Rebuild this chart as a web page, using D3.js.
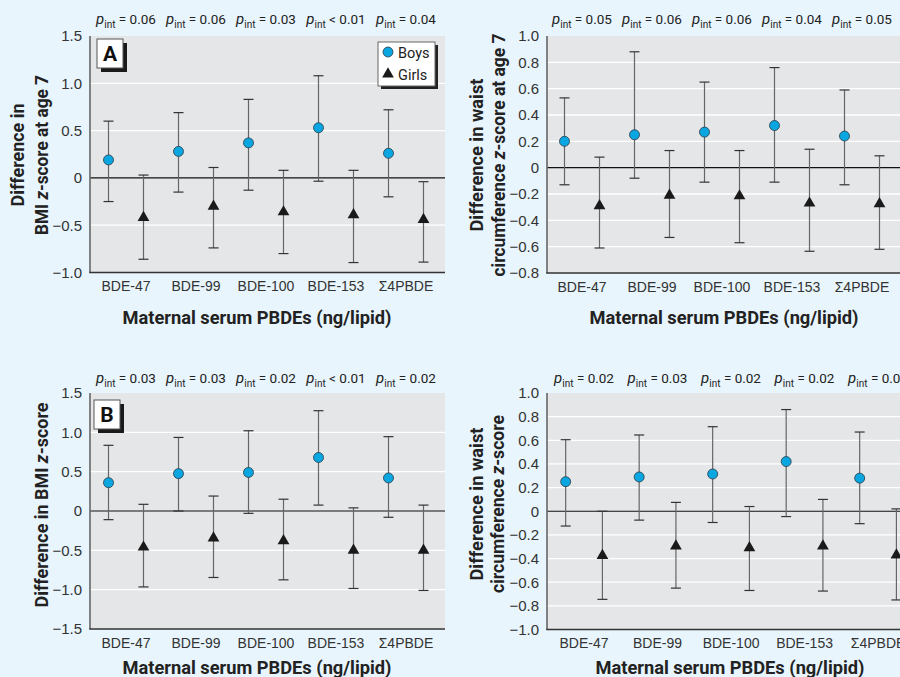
<!DOCTYPE html>
<html>
<head>
<meta charset="utf-8">
<script src="https://cdn.jsdelivr.net/npm/d3@7"></script>
<style>
  body { margin: 0; background: #e8f5fd; }
  svg { display: block; font-family: Roboto, "Liberation Sans", sans-serif; }
</style>
</head>
<body>
<svg id="chart" width="900" height="677"></svg>
<script>
var categories = ["BDE-47", "BDE-99", "BDE-100", "BDE-153", "\u03A34PBDE"];
var sexes = ["Boys", "Girls"];

// each entry: [estimate, lower CI, upper CI]
var bmi7Boys = [[0.19, -0.25, 0.60], [0.28, -0.15, 0.69], [0.37, -0.13, 0.83], [0.53, -0.035, 1.08], [0.26, -0.20, 0.72]];
var bmi7Girls = [[-0.42, -0.86, 0.03], [-0.30, -0.74, 0.11], [-0.36, -0.80, 0.08], [-0.39, -0.895, 0.08], [-0.44, -0.89, -0.04]];
var bmi7P = ["= 0.06", "= 0.06", "= 0.03", "< 0.01", "= 0.04"];

var waist7Boys = [[0.20, -0.13, 0.53], [0.25, -0.08, 0.88], [0.27, -0.11, 0.65], [0.32, -0.11, 0.76], [0.24, -0.13, 0.59]];
var waist7Girls = [[-0.29, -0.61, 0.08], [-0.21, -0.53, 0.13], [-0.215, -0.57, 0.13], [-0.27, -0.635, 0.14], [-0.275, -0.62, 0.09]];
var waist7P = ["= 0.05", "= 0.06", "= 0.06", "= 0.04", "= 0.05"];

var bmiBoys = [[0.36, -0.11, 0.835], [0.475, 0.0, 0.935], [0.49, -0.03, 1.02], [0.68, 0.075, 1.275], [0.42, -0.08, 0.945]];
var bmiGirls = [[-0.46, -0.965, 0.085], [-0.345, -0.845, 0.19], [-0.38, -0.875, 0.15], [-0.50, -0.985, 0.04], [-0.50, -1.01, 0.075]];
var bmiP = ["= 0.03", "= 0.03", "= 0.02", "< 0.01", "= 0.02"];

var waistBoys = [[0.25, -0.125, 0.605], [0.29, -0.075, 0.645], [0.315, -0.095, 0.715], [0.42, -0.045, 0.86], [0.28, -0.105, 0.67]];
var waistGirls = [[-0.375, -0.745, 0.0], [-0.295, -0.65, 0.075], [-0.31, -0.67, 0.04], [-0.295, -0.675, 0.10], [-0.37, -0.75, 0.02]];
var waistP = ["= 0.02", "= 0.03", "= 0.02", "= 0.02", "= 0.02"];

var bmi7Ticks = [-1.0, -0.5, 0, 0.5, 1.0, 1.5];
var waist7Ticks = [-0.8, -0.6, -0.4, -0.2, 0, 0.2, 0.4, 0.6, 0.8, 1.0];
var bmiTicks = [-1.5, -1.0, -0.5, 0, 0.5, 1.0, 1.5];
var waistTicks = [-1.0, -0.8, -0.6, -0.4, -0.2, 0, 0.2, 0.4, 0.6, 0.8, 1.0];

var svg = d3.select('#chart');
svg.append('rect').attr('width', 900).attr('height', 677).attr('fill', '#e8f5fd');

var fmt = function (d) { return d === 0 ? '0' : d3.format('.1f')(d); };

// writes a string where "z" before "-score" is italic
function richTitle(sel, str) {
  var parts = str.split('z-score');
  sel.append('tspan').text(parts[0]);
  if (parts.length > 1) {
    sel.append('tspan').attr('font-style', 'italic').text('z');
    sel.append('tspan').text('-score' + parts[1]);
  }
}

function drawPanel(p) {
  var g = svg.append('g');
  var y = d3.scaleLinear().domain(p.domain).range([p.bottom, p.top]);
  var x = d3.scaleBand().domain(categories).range([p.start, p.start + p.band * 5]);
  var xs = d3.scalePoint().domain(sexes).range([0, x.bandwidth()]).padding(0.5);

  g.append('rect')
    .attr('x', p.left).attr('y', p.top)
    .attr('width', p.width).attr('height', p.bottom - p.top)
    .attr('fill', '#e5e6e8');

  // white grid lines
  g.selectAll('.grid')
    .data(p.ticks.filter(function (t) { return t !== 0 && t !== p.domain[0] && t !== p.domain[1]; }))
    .enter().append('line')
    .attr('x1', p.left).attr('x2', p.left + p.width)
    .attr('y1', function (d) { return y(d); }).attr('y2', function (d) { return y(d); })
    .attr('stroke', '#fff').attr('stroke-width', 1.3);

  // zero line
  g.append('line')
    .attr('x1', p.left).attr('x2', p.left + p.width)
    .attr('y1', y(0)).attr('y2', y(0))
    .attr('stroke', '#111').attr('stroke-width', 1.2);

  // y axis (labels only)
  var ya = g.append('g')
    .attr('transform', 'translate(' + p.left + ',0)')
    .call(d3.axisLeft(y).tickValues(p.ticks).tickSize(0).tickPadding(8).tickFormat(fmt));
  ya.select('.domain').remove();
  ya.selectAll('text').attr('font-size', 15).attr('fill', '#333').attr('font-family', null);

  // x axis (labels only)
  var xa = g.append('g')
    .attr('transform', 'translate(0,' + p.bottom + ')')
    .call(d3.axisBottom(x).tickSize(0).tickPadding(9));
  xa.select('.domain').remove();
  xa.selectAll('text').attr('font-size', 14).attr('fill', '#333').attr('font-family', null);

  // frame lines
  g.append('line')
    .attr('x1', p.left).attr('x2', p.left)
    .attr('y1', p.top).attr('y2', p.bottom)
    .attr('stroke', '#666').attr('stroke-width', 1.6);
  g.append('line')
    .attr('x1', p.left - 0.8).attr('x2', p.left + p.width)
    .attr('y1', p.bottom).attr('y2', p.bottom)
    .attr('stroke', '#333').attr('stroke-width', 1.6);

  var rows = [];
  categories.forEach(function (c, i) {
    rows.push({ cat: c, sex: 'Boys', v: p.boys[i] });
    rows.push({ cat: c, sex: 'Girls', v: p.girls[i] });
  });
  var cx = function (d) { return x(d.cat) + xs(d.sex); };

  var bars = g.selectAll('.err').data(rows).enter().append('g');
  bars.append('line')
    .attr('x1', cx).attr('x2', cx)
    .attr('y1', function (d) { return y(d.v[1]); })
    .attr('y2', function (d) { return y(d.v[2]); })
    .attr('stroke', '#666').attr('stroke-width', 1.2);
  [1, 2].forEach(function (k) {
    bars.append('line')
      .attr('x1', function (d) { return cx(d) - 5; })
      .attr('x2', function (d) { return cx(d) + 5; })
      .attr('y1', function (d) { return y(d.v[k]); })
      .attr('y2', function (d) { return y(d.v[k]); })
      .attr('stroke', '#333').attr('stroke-width', 1.2);
  });

  g.selectAll('.boy').data(rows.filter(function (d) { return d.sex === 'Boys'; }))
    .enter().append('circle')
    .attr('cx', cx).attr('cy', function (d) { return y(d.v[0]); })
    .attr('r', 5).attr('fill', '#0aa6e2').attr('stroke', '#2a3a44').attr('stroke-width', 0.8);

  var tri = d3.symbol().type(d3.symbolTriangle).size(60);
  g.selectAll('.girl').data(rows.filter(function (d) { return d.sex === 'Girls'; }))
    .enter().append('path')
    .attr('d', tri)
    .attr('transform', function (d) { return 'translate(' + cx(d) + ',' + y(d.v[0]) + ')'; })
    .attr('fill', '#1a1a1a');

  // p-interaction labels
  var pl = g.selectAll('.pint').data(p.pvals).enter().append('text')
    .attr('x', function (d, i) { return x(categories[i]) + x.bandwidth() / 2; })
    .attr('y', p.pY)
    .attr('text-anchor', 'middle')
    .attr('font-size', 13.5).attr('fill', '#222');
  pl.append('tspan').attr('font-style', 'italic').attr('font-size', 15).text('p');
  pl.append('tspan').attr('font-size', 10).attr('dy', 4).text('int');
  pl.append('tspan').attr('dy', -4).text(function (d) { return ' ' + d; });

  // x title
  g.append('text')
    .attr('x', p.xTitleX).attr('y', p.xTitleY)
    .attr('text-anchor', 'middle')
    .attr('font-size', 18).attr('font-weight', 'bold').attr('fill', '#222')
    .attr('textLength', 269).attr('lengthAdjust', 'spacingAndGlyphs')
    .text('Maternal serum PBDEs (ng/lipid)');

  // y title
  p.yTitle.forEach(function (line, i) {
    var t = g.append('text')
      .attr('transform', 'translate(' + p.yTitleX[i] + ',' + p.yTitleY + ') rotate(-90)')
      .attr('text-anchor', 'middle')
      .attr('font-size', 18).attr('font-weight', 'bold').attr('fill', '#222')
      .attr('textLength', p.yTitleLen[i]).attr('lengthAdjust', 'spacingAndGlyphs');
    richTitle(t, line);
  });

  if (p.letter) {
    var L = p.letter;
    g.append('rect').attr('x', L.x + 4).attr('y', L.y + 4).attr('width', 26).attr('height', 29).attr('fill', '#1a1a1a');
    g.append('rect').attr('x', L.x).attr('y', L.y).attr('width', 26).attr('height', 29)
      .attr('fill', '#fff').attr('stroke', '#555').attr('stroke-width', 1);
    g.append('text').attr('x', L.x + 13).attr('y', L.y + 22).attr('text-anchor', 'middle')
      .attr('font-size', 21).attr('font-weight', 'bold').attr('fill', '#111').text(L.text);
  }
}

var panels = [
  { left: 90, width: 355, start: 91, band: 70, top: 36, bottom: 272.5, domain: [-1, 1.5], ticks: bmi7Ticks,
    boys: bmi7Boys, girls: bmi7Girls, pvals: bmi7P, pY: 24, xTitleX: 257, xTitleY: 324,
    yTitle: ["Difference in", "BMI z-score at age 7"], yTitleX: [24, 48], yTitleLen: [103, 160], yTitleY: 155,
    letter: { x: 97, y: 39, text: 'A' } },
  { left: 547, width: 360, start: 547, band: 70, top: 36, bottom: 273, domain: [-0.8, 1.0], ticks: waist7Ticks,
    boys: waist7Boys, girls: waist7Girls, pvals: waist7P, pY: 24, xTitleX: 724, xTitleY: 324,
    yTitle: ["Difference in waist", "circumference z-score at age 7"], yTitleX: [483, 505], yTitleLen: [153, 243], yTitleY: 155 },
  { left: 90, width: 355, start: 91, band: 70, top: 393, bottom: 629, domain: [-1.5, 1.5], ticks: bmiTicks,
    boys: bmiBoys, girls: bmiGirls, pvals: bmiP, pY: 383, xTitleX: 257, xTitleY: 674,
    yTitle: ["Difference in BMI z-score"], yTitleX: [48], yTitleLen: [205], yTitleY: 505,
    letter: { x: 94, y: 400, text: 'B' } },
  { left: 547, width: 370, start: 547.3, band: 73.5, top: 393, bottom: 629.5, domain: [-1, 1], ticks: waistTicks,
    boys: waistBoys, girls: waistGirls, pvals: waistP, pY: 383, xTitleX: 730, xTitleY: 674,
    yTitle: ["Difference in waist", "circumference z-score"], yTitleX: [483, 504], yTitleLen: [153, 178], yTitleY: 504 }
];

panels.forEach(drawPanel);

// legend (panel A)
var lg = svg.append('g').attr('transform', 'translate(378,42)');
lg.append('rect').attr('x', 3).attr('y', 3).attr('width', 57).attr('height', 44).attr('fill', '#222');
lg.append('rect').attr('width', 57).attr('height', 44).attr('fill', '#fff').attr('stroke', '#666').attr('stroke-width', 1);
var li = lg.selectAll('.li').data(sexes).enter().append('g')
  .attr('transform', function (d, i) { return 'translate(10,' + (10 + i * 22) + ')'; });
li.filter(function (d) { return d === 'Boys'; }).append('circle')
  .attr('r', 5).attr('fill', '#0aa6e2').attr('stroke', '#2a3a44').attr('stroke-width', 0.8);
li.filter(function (d) { return d === 'Girls'; }).append('path')
  .attr('d', d3.symbol().type(d3.symbolTriangle).size(60)).attr('fill', '#1a1a1a');
li.append('text').attr('x', 10).attr('y', 5.5).attr('font-size', 14.5).attr('fill', '#222')
  .text(function (d) { return d; });
</script>
</body>
</html>
